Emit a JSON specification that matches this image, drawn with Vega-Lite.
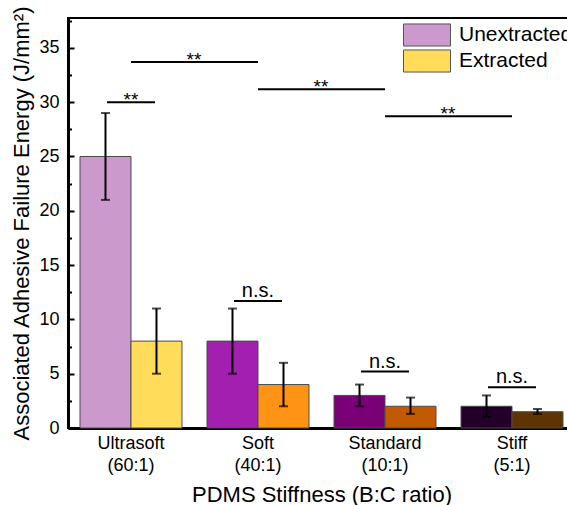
{
  "$schema": "https://vega.github.io/schema/vega-lite/v6.json",
  "width": 507,
  "height": 410,
  "autosize": {"type": "none"},
  "padding": {"left": 68, "top": 18, "right": 0, "bottom": 77},
  "background": "white",
  "config": {
    "font": "Liberation Sans",
    "view": {"stroke": "black", "strokeWidth": 2},
    "axis": {"grid": false, "domainColor": "black", "tickColor": "black", "labelColor": "black", "titleColor": "black", "titleFontWeight": "normal"}
  },
  "datasets": {
    "bars": [
      {"stiffness": "Ultrasoft (60:1)", "treatment": "Unextracted", "key": "Unextracted", "energy": 25, "lo": 21, "hi": 29},
      {"stiffness": "Ultrasoft (60:1)", "treatment": "Extracted", "key": "Extracted", "energy": 8, "lo": 5, "hi": 11},
      {"stiffness": "Soft (40:1)", "treatment": "Unextracted", "key": "Soft Unextracted", "energy": 8, "lo": 5, "hi": 11},
      {"stiffness": "Soft (40:1)", "treatment": "Extracted", "key": "Soft Extracted", "energy": 4, "lo": 2, "hi": 6},
      {"stiffness": "Standard (10:1)", "treatment": "Unextracted", "key": "Standard Unextracted", "energy": 3, "lo": 2, "hi": 4},
      {"stiffness": "Standard (10:1)", "treatment": "Extracted", "key": "Standard Extracted", "energy": 2, "lo": 1.3, "hi": 2.8},
      {"stiffness": "Stiff (5:1)", "treatment": "Unextracted", "key": "Stiff Unextracted", "energy": 2, "lo": 1.05, "hi": 3},
      {"stiffness": "Stiff (5:1)", "treatment": "Extracted", "key": "Stiff Extracted", "energy": 1.5, "lo": 1.3, "hi": 1.75}
    ],
    "pairs": [
      {"stiffness": "Ultrasoft (60:1)", "y": 30.0, "label": "**"},
      {"stiffness": "Soft (40:1)", "y": 11.7, "label": "n.s."},
      {"stiffness": "Standard (10:1)", "y": 5.2, "label": "n.s."},
      {"stiffness": "Stiff (5:1)", "y": 3.75, "label": "n.s."}
    ],
    "spans": [
      {"stiffness": "Ultrasoft (60:1)", "to": "Soft (40:1)", "y": 33.7, "label": "**"},
      {"stiffness": "Soft (40:1)", "to": "Standard (10:1)", "y": 31.2, "label": "**"},
      {"stiffness": "Standard (10:1)", "to": "Stiff (5:1)", "y": 28.7, "label": "**"}
    ]
  },
  "resolve": {"axis": {"y": "independent"}},
  "layer": [
    {
      "data": {"name": "bars"},
      "mark": {"type": "bar", "stroke": "#4a4a4a", "strokeWidth": 1},
      "encoding": {
        "x": {
          "field": "stiffness", "type": "nominal",
          "scale": {"domain": ["Ultrasoft (60:1)", "Soft (40:1)", "Standard (10:1)", "Stiff (5:1)"], "paddingInner": 0.197, "paddingOuter": 0.0945},
          "axis": {"title": "PDMS Stiffness (B:C ratio)", "labelExpr": "split(datum.label, ' ')", "labelFontSize": 18, "labelLineHeight": 22, "labelAngle": 0, "ticks": false, "domainWidth": 3, "labelPadding": 6, "titleFontSize": 22, "titlePadding": 10}
        },
        "xOffset": {"field": "treatment", "type": "nominal", "scale": {"domain": ["Unextracted", "Extracted"], "paddingInner": 0, "paddingOuter": 0}},
        "y": {
          "field": "energy", "type": "quantitative",
          "scale": {"domain": [0, 37.75], "nice": false, "zero": true},
          "axis": {"title": "Associated Adhesive Failure Energy (J/mm²)", "values": [0, 5, 10, 15, 20, 25, 30, 35], "labelFontSize": 18, "tickSize": -6, "tickWidth": 2, "domainWidth": 3, "labelPadding": 15, "titleFontSize": 22, "titlePadding": 5}
        },
        "fill": {
          "field": "key", "type": "nominal",
          "scale": {
            "domain": ["Unextracted", "Extracted", "Soft Unextracted", "Soft Extracted", "Standard Unextracted", "Standard Extracted", "Stiff Unextracted", "Stiff Extracted"],
            "range": ["#CC99CC", "#FFDC5A", "#A21FAF", "#FF9414", "#7A0077", "#C25B00", "#22002A", "#5E3500"]
          },
          "legend": {
            "values": ["Unextracted", "Extracted"], "title": null, "orient": "none", "legendX": 335, "legendY": 5,
            "symbolType": "M-1,-0.47H1V0.47H-1Z", "symbolSize": 2209, "symbolStrokeColor": "#555555", "symbolStrokeWidth": 1,
            "labelFontSize": 21, "labelColor": "black", "labelOffset": 8, "clipHeight": 24, "rowPadding": 2
          }
        }
      }
    },
    {
      "data": {"name": "bars"},
      "mark": {"type": "rule", "color": "black", "strokeWidth": 2},
      "encoding": {
        "x": {"field": "stiffness", "type": "nominal"},
        "xOffset": {"field": "treatment", "type": "nominal"},
        "y": {"field": "lo", "type": "quantitative", "axis": {"values": [2.5, 7.5, 12.5, 17.5, 22.5, 27.5, 32.5, 37.5], "labels": false, "domain": false, "tickSize": -3.5, "tickWidth": 2, "title": null, "orient": "left"}},
        "y2": {"field": "hi"}
      }
    },
    {
      "data": {"name": "bars"},
      "mark": {"type": "tick", "color": "black", "thickness": 2, "size": 9, "orient": "horizontal"},
      "encoding": {
        "x": {"field": "stiffness", "type": "nominal"},
        "xOffset": {"field": "treatment", "type": "nominal"},
        "y": {"field": "hi", "type": "quantitative", "axis": null}
      }
    },
    {
      "data": {"name": "bars"},
      "mark": {"type": "tick", "color": "black", "thickness": 2, "size": 9, "orient": "horizontal"},
      "encoding": {
        "x": {"field": "stiffness", "type": "nominal"},
        "xOffset": {"field": "treatment", "type": "nominal"},
        "y": {"field": "lo", "type": "quantitative", "axis": null}
      }
    },
    {
      "data": {"name": "pairs"},
      "mark": {"type": "tick", "color": "black", "thickness": 2, "size": 48, "orient": "horizontal", "opacity": 1},
      "encoding": {
        "x": {"field": "stiffness", "type": "nominal"},
        "y": {"field": "y", "type": "quantitative", "axis": null}
      }
    },
    {
      "data": {"name": "pairs"},
      "transform": [{"filter": "datum.label === 'n.s.'"}],
      "mark": {"type": "text", "fontSize": 20, "baseline": "alphabetic", "dy": -4, "color": "black"},
      "encoding": {
        "x": {"field": "stiffness", "type": "nominal"},
        "y": {"field": "y", "type": "quantitative", "axis": null},
        "text": {"field": "label"}
      }
    },
    {
      "data": {"name": "pairs"},
      "transform": [{"filter": "datum.label === '**'"}],
      "mark": {"type": "text", "fontSize": 19, "baseline": "alphabetic", "dy": 4, "color": "black"},
      "encoding": {
        "x": {"field": "stiffness", "type": "nominal"},
        "y": {"field": "y", "type": "quantitative", "axis": null},
        "text": {"field": "label"}
      }
    },
    {
      "data": {"name": "spans"},
      "mark": {"type": "rule", "color": "black", "strokeWidth": 2},
      "encoding": {
        "x": {"field": "stiffness", "type": "nominal"},
        "x2": {"field": "to"},
        "y": {"field": "y", "type": "quantitative", "axis": null}
      }
    },
    {
      "data": {"name": "spans"},
      "mark": {"type": "text", "fontSize": 19, "baseline": "alphabetic", "dy": 4, "dx": 63, "color": "black"},
      "encoding": {
        "x": {"field": "stiffness", "type": "nominal"},
        "y": {"field": "y", "type": "quantitative", "axis": null},
        "text": {"field": "label"}
      }
    }
  ]
}
